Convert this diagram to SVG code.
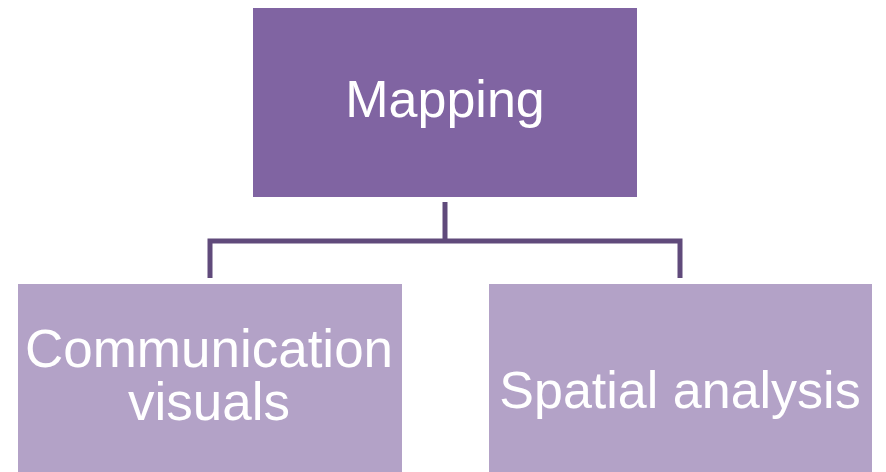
<svg xmlns="http://www.w3.org/2000/svg" width="886" height="472" viewBox="0 0 886 472">
<style>
.t{font-family:"Liberation Sans",Arial,sans-serif;font-size:52px;fill:#ffffff;text-anchor:middle}
.top{fill:#8064A2}
.sub{fill:#B3A2C7}
.c{fill:none;stroke:#604A7B;stroke-width:5}
</style>
<rect width="886" height="472" fill="#ffffff"/>
<g id="connectors">
<path class="c" d="M445,202 V241"/>
<path class="c" d="M210,278 V241 H680 V278"/>
</g>
<g id="mapping">
<rect class="top" x="253" y="8" width="384" height="189"/>
<text class="t" x="445" y="117">Mapping</text>
</g>
<g id="communication">
<rect class="sub" x="18" y="284" width="384" height="188"/>
<text class="t" x="209" y="367" style="font-size:53px">Communication</text>
<text class="t" x="209" y="420" style="font-size:53px">visuals</text>
</g>
<g id="spatial">
<rect class="sub" x="489" y="284" width="383" height="188"/>
<text class="t" x="680" y="408">Spatial analysis</text>
</g>
</svg>
